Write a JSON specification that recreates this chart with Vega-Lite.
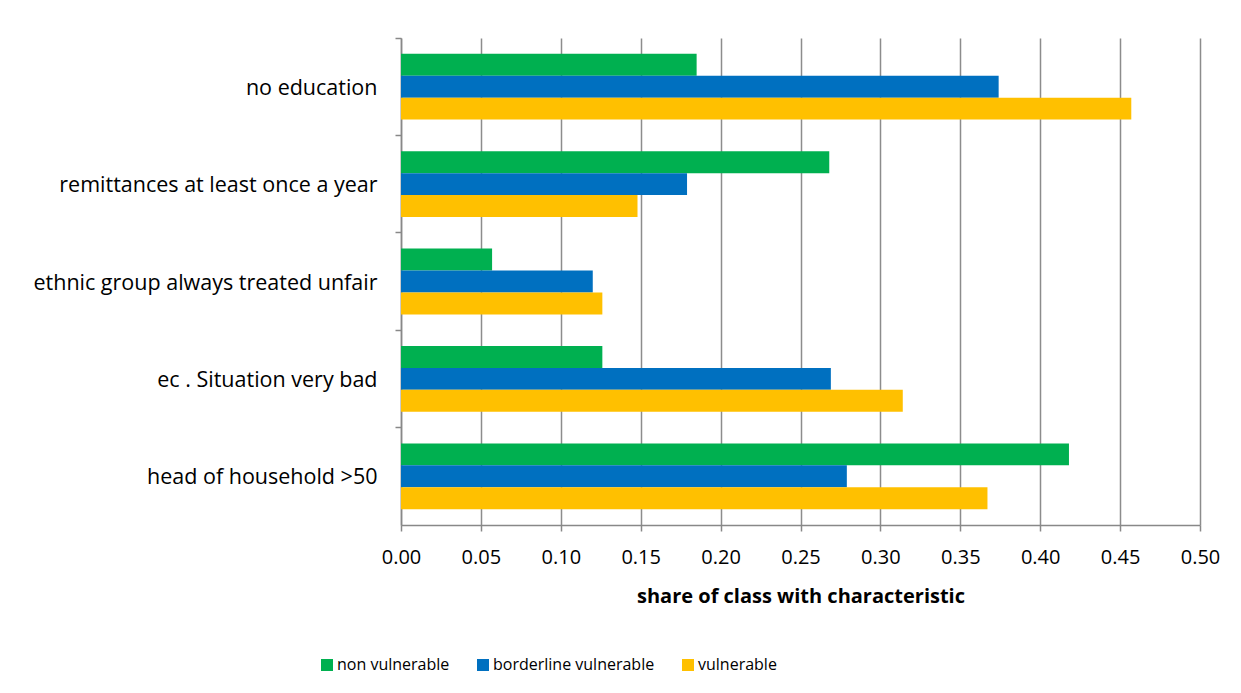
{
  "$schema": "https://vega.github.io/schema/vega-lite/v6.json",
  "autosize": "none",
  "width": 799,
  "height": 487,
  "padding": {"left": 401, "top": 38, "right": 41, "bottom": 168},
  "background": "white",
  "config": {
    "view": {"stroke": null},
    "font": "Open Sans",
    "axis": {"labelFont": "Open Sans", "titleFont": "Open Sans", "labelColor": "#000000", "titleColor": "#000000"},
    "legend": {"labelFont": "Open Sans"}
  },
  "data": {
    "values": [
      {"characteristic": "no education", "class": "non vulnerable", "share": 0.185},
      {"characteristic": "no education", "class": "borderline vulnerable", "share": 0.374},
      {"characteristic": "no education", "class": "vulnerable", "share": 0.457},
      {"characteristic": "remittances at least once a year", "class": "non vulnerable", "share": 0.268},
      {"characteristic": "remittances at least once a year", "class": "borderline vulnerable", "share": 0.179},
      {"characteristic": "remittances at least once a year", "class": "vulnerable", "share": 0.148},
      {"characteristic": "ethnic group always treated unfair", "class": "non vulnerable", "share": 0.057},
      {"characteristic": "ethnic group always treated unfair", "class": "borderline vulnerable", "share": 0.120},
      {"characteristic": "ethnic group always treated unfair", "class": "vulnerable", "share": 0.126},
      {"characteristic": "ec . Situation very bad", "class": "non vulnerable", "share": 0.126},
      {"characteristic": "ec . Situation very bad", "class": "borderline vulnerable", "share": 0.269},
      {"characteristic": "ec . Situation very bad", "class": "vulnerable", "share": 0.314},
      {"characteristic": "head of household >50", "class": "non vulnerable", "share": 0.418},
      {"characteristic": "head of household >50", "class": "borderline vulnerable", "share": 0.279},
      {"characteristic": "head of household >50", "class": "vulnerable", "share": 0.367}
    ]
  },
  "mark": {"type": "bar"},
  "encoding": {
    "y": {
      "field": "characteristic",
      "type": "nominal",
      "sort": ["no education", "remittances at least once a year", "ethnic group always treated unfair", "ec . Situation very bad", "head of household >50"],
      "scale": {"paddingInner": 0, "paddingOuter": 0},
      "axis": {
        "title": null,
        "bandPosition": 0,
        "domainColor": "#888888",
        "domainWidth": 1.5,
        "tickColor": "#888888",
        "tickWidth": 1.5,
        "tickSize": 6,
        "labelFontSize": 21.5,
        "labelPadding": 18,
        "labelOffset": 2,
        "labelLimit": 400,
        "labelBaseline": "middle"
      }
    },
    "yOffset": {
      "field": "class",
      "type": "nominal",
      "sort": ["non vulnerable", "borderline vulnerable", "vulnerable"],
      "scale": {"paddingInner": 0, "paddingOuter": 0.72}
    },
    "x": {
      "field": "share",
      "type": "quantitative",
      "scale": {"domain": [0, 0.5], "nice": false},
      "axis": {
        "title": "share of class with characteristic",
        "values": [0, 0.05, 0.1, 0.15, 0.2, 0.25, 0.3, 0.35, 0.4, 0.45, 0.5],
        "format": ".2f",
        "labelFlush": false,
        "grid": true,
        "gridColor": "#8c8c8c",
        "gridWidth": 1.5,
        "domainColor": "#888888",
        "domainWidth": 1.5,
        "tickColor": "#888888",
        "tickWidth": 1.5,
        "tickSize": 6,
        "labelFontSize": 20,
        "labelPadding": 16,
        "titleFontSize": 20,
        "titleFontWeight": "bold",
        "titlePadding": 19
      }
    },
    "color": {
      "field": "class",
      "type": "nominal",
      "sort": ["non vulnerable", "borderline vulnerable", "vulnerable"],
      "scale": {
        "domain": ["non vulnerable", "borderline vulnerable", "vulnerable"],
        "range": ["#00B050", "#0070C0", "#FFC000"]
      },
      "legend": {
        "title": null,
        "orient": "none",
        "direction": "horizontal",
        "legendX": -82,
        "legendY": 619,
        "symbolType": "square",
        "symbolSize": 144,
        "symbolStrokeWidth": 0,
        "labelFontSize": 16,
        "labelColor": "#000000",
        "labelLimit": 300,
        "labelOffset": 2,
        "columnPadding": 25
      }
    }
  }
}
